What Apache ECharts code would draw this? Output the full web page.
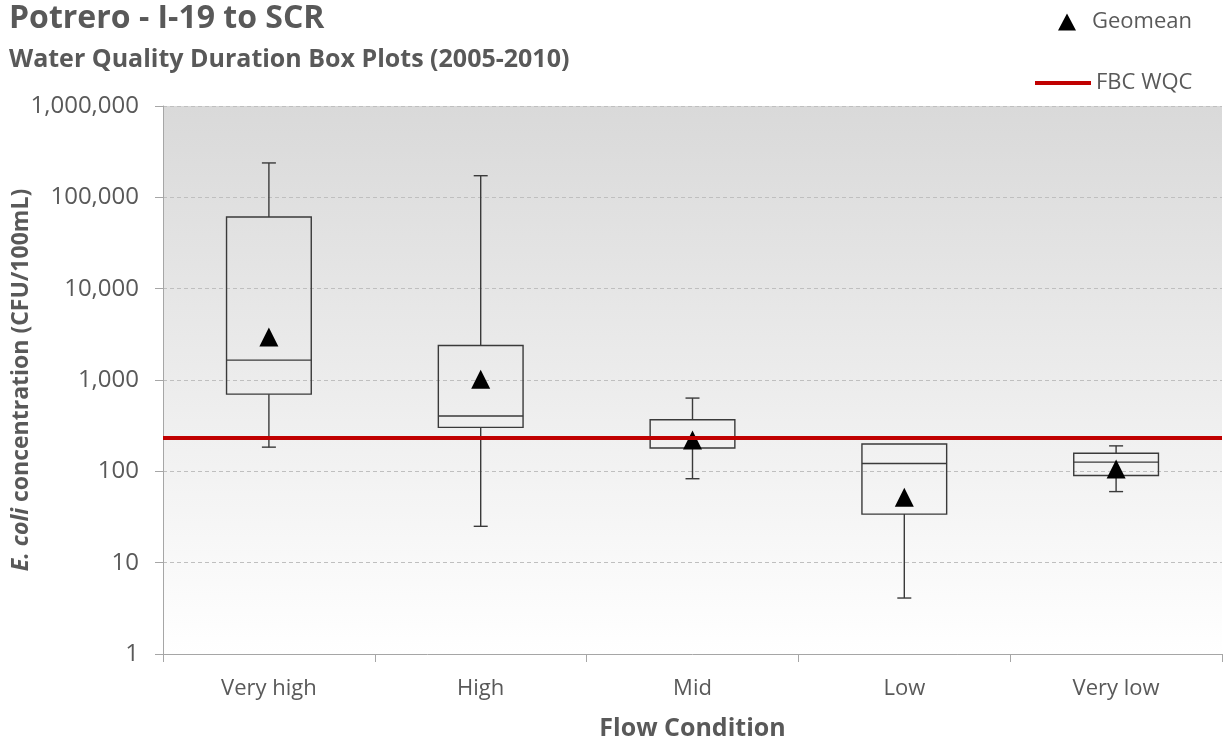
<!DOCTYPE html>
<html>
<head>
<meta charset="utf-8">
<script src="https://cdn.jsdelivr.net/npm/echarts@6/dist/echarts.min.js"></script>
<style>
html,body{margin:0;padding:0;background:#fff;}
#chart{width:1225px;height:744px;}
</style>
</head>
<body>
<div id="chart"></div>
<script>
const categories = ['Very high', 'High', 'Mid', 'Low', 'Very low'];
const whiskerMin = [184, 25, 83, 4.1, 60];
const q1 = [700, 303, 180, 34, 90];
const median = [1650, 403, 235, 122, 126];
const q3 = [60800, 2390, 367, 199, 158];
const whiskerMax = [238000, 172500, 634, 199, 190];
const geomean = [2950, 1020, 220, 52, 106];
const fbcWqc = 235;

const FONT = '"Open Sans", Lato, sans-serif';
const GRAY = '#595959';

const boxData = categories.map((c, i) => [i, whiskerMin[i], q1[i], median[i], q3[i], whiskerMax[i]]);

const chart = echarts.init(document.getElementById('chart'), null, {renderer: 'canvas'});

function renderBox(params, api) {
  const x = api.value(0);
  const pMin = api.coord([x, api.value(1)]);
  const pQ1 = api.coord([x, api.value(2)]);
  const pMed = api.coord([x, api.value(3)]);
  const pQ3 = api.coord([x, api.value(4)]);
  const pMax = api.coord([x, api.value(5)]);
  const band = api.size([1, 0])[0];
  const hw = band * 0.2;
  const cap = 7;
  const cx = pMed[0];
  const style = {stroke: '#3a3a3a', lineWidth: 1.4, fill: null};
  const children = [
    {type: 'rect', shape: {x: cx - hw, y: pQ3[1], width: hw * 2, height: pQ1[1] - pQ3[1]}, style: {stroke: '#3a3a3a', lineWidth: 1.4, fill: 'rgba(0,0,0,0)'}},
    {type: 'line', shape: {x1: cx - hw, y1: pMed[1], x2: cx + hw, y2: pMed[1]}, style: style},
    {type: 'line', shape: {x1: cx, y1: pQ3[1], x2: cx, y2: pMax[1]}, style: style},
    {type: 'line', shape: {x1: cx, y1: pQ1[1], x2: cx, y2: pMin[1]}, style: style}
  ];
  if (Math.abs(pMax[1] - pQ3[1]) > 1) children.push({type: 'line', shape: {x1: cx - cap, y1: pMax[1], x2: cx + cap, y2: pMax[1]}, style: style});
  if (Math.abs(pMin[1] - pQ1[1]) > 1) children.push({type: 'line', shape: {x1: cx - cap, y1: pMin[1], x2: cx + cap, y2: pMin[1]}, style: style});
  return {type: 'group', children: children};
}

const option = {
  animation: false,
  backgroundColor: '#ffffff',
  title: [
    {text: 'Potrero - I-19 to SCR', left: 4, top: -2, textStyle: {fontFamily: FONT, fontWeight: 'bold', fontSize: 32, color: GRAY}},
    {text: 'Water Quality Duration Box Plots (2005-2010)', left: 4, top: 42, textStyle: {fontFamily: FONT, fontWeight: 'bold', fontSize: 25, color: GRAY}}
  ],
  legend: [
    {data: [{name: 'Geomean', icon: 'triangle'}], left: 1053, top: 6, itemWidth: 18, itemHeight: 17,
     textStyle: {fontFamily: FONT, fontSize: 22, color: GRAY, padding: [0, 0, 0, 11]}},
    {data: [{name: 'FBC WQC', icon: 'rect'}], left: 1030, top: 67, itemWidth: 56, itemHeight: 4,
     textStyle: {fontFamily: FONT, fontSize: 22, color: GRAY}}
  ],
  grid: {
    left: 163, right: 3, top: 106, bottom: 90,
    containLabel: false, outerBoundsMode: 'none',
    show: true, borderWidth: 0,
    backgroundColor: new echarts.graphic.LinearGradient(0, 0, 0, 1, [
      {offset: 0, color: '#d9d9d9'}, {offset: 1, color: '#ffffff'}
    ])
  },
  xAxis: {
    type: 'category', data: categories, boundaryGap: true,
    name: 'Flow Condition', nameLocation: 'middle', nameGap: 62, nameMoveOverlap: false,
    nameTextStyle: {fontFamily: FONT, fontWeight: 'bold', fontSize: 25, color: GRAY},
    axisLine: {lineStyle: {color: '#a6a6a6', width: 1}},
    axisTick: {show: true, alignWithLabel: false, length: 8, lineStyle: {color: '#a6a6a6'}},
    axisLabel: {fontFamily: FONT, fontSize: 22, color: GRAY, margin: 24},
    splitLine: {show: false}
  },
  yAxis: {
    type: 'log', logBase: 10, min: 1, max: 1000000,
    name: '{i|E. coli} {n|concentration (CFU/100mL)}',
    nameLocation: 'middle', nameRotate: 90, nameGap: 130, nameMoveOverlap: false,
    nameTextStyle: {
      fontFamily: FONT, fontSize: 23, color: GRAY, fontWeight: 'bold',
      rich: {
        i: {fontFamily: FONT, fontSize: 23, color: GRAY, fontWeight: 'bold', fontStyle: 'italic'},
        n: {fontFamily: FONT, fontSize: 23, color: GRAY, fontWeight: 'bold'}
      }
    },
    axisLine: {show: true, lineStyle: {color: '#a6a6a6', width: 1}},
    axisTick: {show: true, length: 8, lineStyle: {color: '#a6a6a6'}},
    axisLabel: {fontFamily: FONT, fontSize: 24, color: GRAY, margin: 24,
      formatter: v => Math.round(v).toLocaleString('en-US')},
    splitLine: {show: true, lineStyle: {color: '#bfbfbf', type: [4, 3], width: 1}},
    minorTick: {show: false}
  },
  series: [
    {
      name: 'Box', type: 'custom', data: boxData, renderItem: renderBox,
      encode: {x: 0, y: [1, 2, 3, 4, 5]}, z: 2, silent: true
    },
    {
      name: 'Geomean', type: 'scatter', data: geomean.map((v, i) => [i, v]),
      symbol: 'triangle', symbolSize: [19, 19],
      itemStyle: {color: '#000000', opacity: 1}, z: 3
    },
    {
      name: 'FBC WQC', type: 'line', data: [],
      itemStyle: {color: '#c00000'}, lineStyle: {color: '#c00000', width: 4},
      z: 4,
      markLine: {
        silent: true, symbol: 'none', label: {show: false},
        lineStyle: {color: '#c00000', width: 4, type: 'solid'},
        data: [{yAxis: fbcWqc}]
      }
    }
  ]
};
chart.setOption(option);
</script>
</body>
</html>
